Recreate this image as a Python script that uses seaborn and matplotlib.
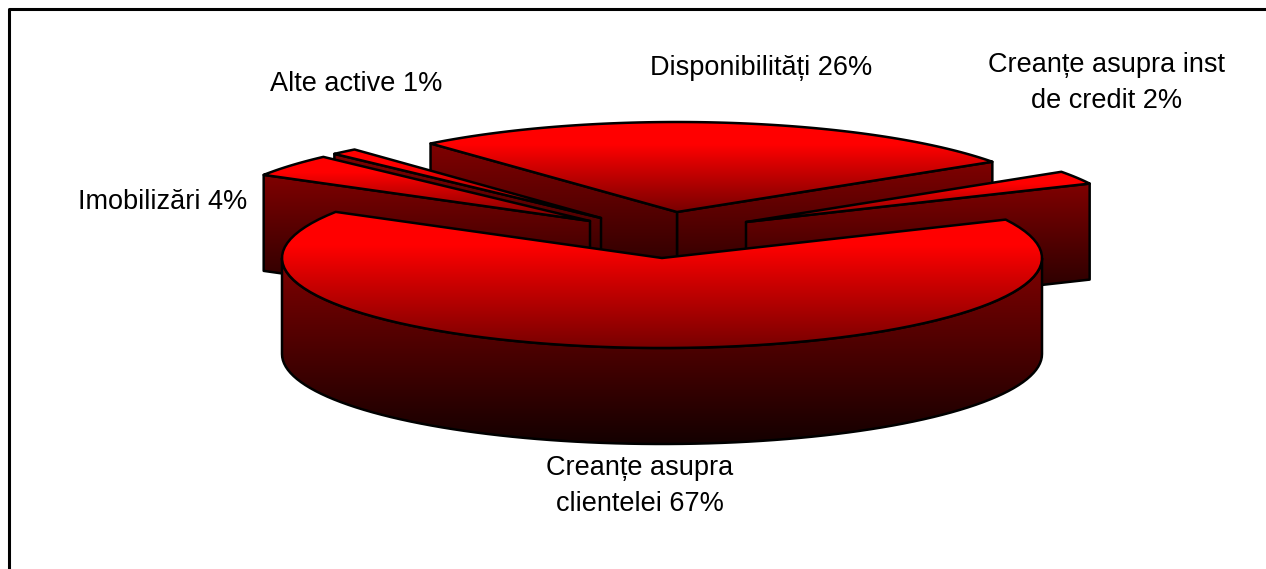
import numpy as np
import matplotlib
matplotlib.use("Agg")
import matplotlib.pyplot as plt
from matplotlib.patches import PathPatch
from matplotlib.path import Path
import seaborn as sns

# Data
names = ["Creanțe asupra\nclientelei", "Creanțe asupra inst\nde credit", "Disponibilități",
         "Alte active", "Imobilizări"]
shares = [66.6, 2.4, 26.0, 1.1, 3.9]

# Layout (pixel space of the figure)
apexes = [(662, 258), (746, 222), (677, 212), (601, 218), (590, 221)]
label_xy = [(640, 486), (1107, 83), (761, 68), (356, 84), (163, 202)]
draw_order = [2, 3, 4, 1, 0]
RX, RY, DEPTH = 380, 90, 96
START = 148.0
WARP, WARP_AT = 2.5, 30.0

sns.set_theme(style="white")
plt.rcParams["font.family"] = ["Liberation Sans", "DejaVu Sans"]
top_cmap = sns.blend_palette(["#ff0000", "#ff0000", "#d00000", "#a40000", "#780000"], as_cmap=True)
side_cmap = sns.blend_palette(["#800000", "#140000"], as_cmap=True)

fig = plt.figure(figsize=(12.66, 5.69), dpi=100, facecolor="white")
ax = fig.add_axes([0, 0, 1, 1])
ax.set_axis_off()


def warp(theta):
    return theta - WARP * np.cos(np.radians(theta - WARP_AT))


def rim(apex, t0, t1, n=90, dy=0):
    t = np.radians(np.linspace(t0, t1, n))
    return np.column_stack([apex[0] + RX * np.cos(t), apex[1] - RY * np.sin(t) + dy])


def shade(verts, cmap, z):
    verts = np.asarray(verts)
    codes = [Path.MOVETO] + [Path.LINETO] * (len(verts) - 1)
    path = Path(np.vstack([verts, verts[0]]), codes + [Path.CLOSEPOLY])
    x0, y0 = verts.min(axis=0)
    x1, y1 = verts.max(axis=0)
    im = ax.imshow(np.linspace(0, 1, 256)[:, None], cmap=cmap, vmin=0, vmax=1, aspect="auto",
                   extent=(x0, x1, y1, y0), zorder=z)
    outline = PathPatch(path, facecolor="none", edgecolor="black", lw=1.8, joinstyle="round", zorder=z + 0.1)
    ax.add_patch(outline)
    im.set_clip_path(outline)


edges = START + np.cumsum([0] + shares) * 3.6
z = 1
for i in draw_order:
    t0, t1 = warp(edges[i]), warp(edges[i + 1])
    apex = apexes[i]
    # radial walls that face the viewer
    for t, vis in ((t0, np.cos(np.radians(t0)) > 0), (t1, np.cos(np.radians(t1)) < 0)):
        if vis:
            tip = rim(apex, t, t, 1)[0]
            shade([apex, tip, tip + [0, DEPTH], np.array(apex) + [0, DEPTH]], side_cmap, z)
            z += 1
    # outer wall, only the part on the near half of the rim
    lo, hi = max(t0, 180), min(t1, 360)
    if hi > lo:
        shade(np.vstack([rim(apex, lo, hi), rim(apex, hi, lo, dy=DEPTH)]), side_cmap, z)
        z += 1
    # top face
    shade(np.vstack([[apex], rim(apex, t0, t1)]), top_cmap, z)
    z += 1
    ax.text(*label_xy[i], f"{names[i]} {round(shares[i])}%", ha="center", va="center", fontsize=19.5,
            color="black", linespacing=1.5, zorder=100)

ax.set_xlim(0, 1266)
ax.set_ylim(569, 0)
ax.plot([9, 9, 1266], [569, 9, 9], color="black", lw=2.2, zorder=100, clip_on=False)

fig.savefig("out.png", dpi=100)
